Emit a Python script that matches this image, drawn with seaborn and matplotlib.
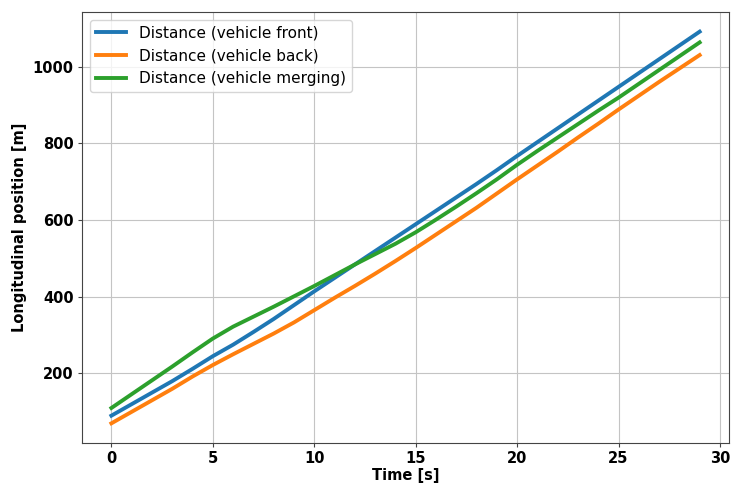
import matplotlib
matplotlib.use("Agg")
import matplotlib.pyplot as plt
import seaborn as sns
import pandas as pd
import numpy as np

time_s = list(range(30))
front = [90, 120, 150, 180, 212, 245, 275, 308, 342, 378,
         414, 449, 484, 519, 554, 589, 624, 659, 694, 730,
         767, 803, 839, 875, 911, 947, 983, 1019, 1055, 1091]
back = [70, 100, 130, 160, 192, 222, 250, 277, 304, 333,
        365, 397, 428, 460, 493, 527, 562, 597, 632, 669,
        706, 742, 778, 815, 851, 888, 924, 960, 995, 1030]
merging = [110, 146, 182, 218, 255, 291, 322, 348, 374, 401,
           428, 456, 484, 511, 538, 568, 601, 635, 670, 706,
           744, 780, 815, 850, 885, 919, 955, 991, 1027, 1063]
labels = ["Distance (vehicle front)", "Distance (vehicle back)",
          "Distance (vehicle merging)"]


def main():
    df = pd.DataFrame({
        "t": time_s * 3,
        "pos": front + back + merging,
        "series": np.repeat(labels, len(time_s)),
    })

    fig, ax = plt.subplots(figsize=(7.32, 4.83), dpi=100)
    fig.subplots_adjust(left=0.112, right=0.996, top=0.975, bottom=0.083)

    sns.lineplot(data=df, x="t", y="pos", hue="series", hue_order=labels,
                 palette=["#1f77b4", "#ff7f0e", "#2ca02c"], linewidth=2.8, ax=ax)

    ax.grid(True, color="#c4c4c4", linewidth=0.8)
    for sp in ax.spines.values():
        sp.set_color("#444444")
    ax.set_xticks([0, 5, 10, 15, 20, 25, 30])
    ax.set_yticks([200, 400, 600, 800, 1000])
    ax.tick_params(length=3, pad=3, colors="#444444", labelcolor="black")
    ax.set_xlabel("Time [s]", fontsize=10.5, fontweight="bold", labelpad=1)
    ax.set_ylabel("Longitudinal position [m]", fontsize=10.5, fontweight="bold", labelpad=4)
    for lab in ax.get_xticklabels() + ax.get_yticklabels():
        lab.set_fontsize(10.5)
        lab.set_fontweight("bold")

    leg = ax.legend(loc="upper left", fontsize=11)
    for line in leg.get_lines():
        line.set_linewidth(2.8)

    fig.savefig("out.png", dpi=100)


if __name__ == "__main__":
    main()
